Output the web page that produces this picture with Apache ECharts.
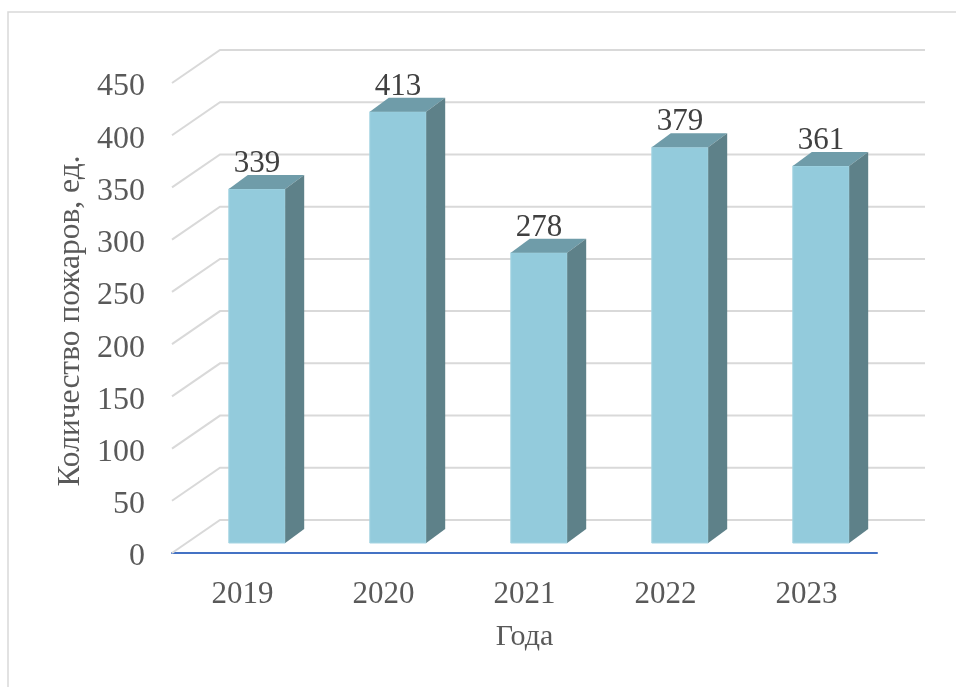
<!DOCTYPE html>
<html>
<head>
<meta charset="utf-8">
<script src="https://cdn.jsdelivr.net/npm/echarts@6/dist/echarts.min.js"></script>
<style>
html,body{margin:0;padding:0;background:#fff;}
#main{width:956px;height:687px;}
</style>
</head>
<body>
<div id="main"></div>
<script>
var years = ['2019', '2020', '2021', '2022', '2023'];
var fires = [339, 413, 278, 379, 361];
var yTicks = [0, 50, 100, 150, 200, 250, 300, 350, 400, 450];
var yTitle = 'Количество пожаров, ед.';
var xTitle = 'Года';

// псевдо-3D: сдвиг задней стенки и глубина столбика
var wallDx = 48, wallDy = -33;
var barDx = 19, barDy = -14;
var barShiftX = 14.5, barShiftY = -10;
var font = 'Liberation Serif';

var chart = echarts.init(document.getElementById('main'));

var option = {
	backgroundColor: '#fff',
	animation: false,
	graphic: [{
		type: 'rect',
		shape: { x: 8, y: 12, width: 980, height: 720 },
		style: { fill: null, stroke: '#d9d9d9', lineWidth: 1.5 },
		silent: true
	}, {
		type: 'text',
		x: 71,
		y: 321,
		rotation: Math.PI / 2,
		style: {
			text: yTitle,
			align: 'center',
			verticalAlign: 'middle',
			fontSize: 31.5,
			fontFamily: font,
			fill: '#595959'
		}
	}],
	grid: { left: 172, right: 79, top: 83, bottom: 134 },
	xAxis: {
		type: 'category',
		data: years,
		axisLine: { lineStyle: { color: '#4472c4', width: 2 } },
		axisTick: { show: false },
		axisLabel: { fontSize: 31, fontFamily: font, color: '#595959', margin: 26 },
		name: xTitle,
		nameLocation: 'middle',
		nameGap: 69,
		nameTextStyle: { fontSize: 30, fontFamily: font, color: '#595959' }
	},
	yAxis: {
		type: 'value',
		min: 0,
		max: 450,
		interval: 50,
		axisLine: { show: false },
		axisTick: { show: false },
		splitLine: { show: false },
		axisLabel: {
			fontSize: 32, fontFamily: font, color: '#595959', margin: 27,
			verticalAlign: 'top', lineHeight: 8
		}
	},
	series: [{
		// стенка с линиями сетки
		type: 'custom',
		z: 1,
		silent: true,
		data: yTicks.map(function(v) { return [0, v]; }),
		renderItem: function(params, api) {
			var cs = params.coordSys;
			var y = api.coord([0, api.value(1)])[1];
			return {
				type: 'polyline',
				shape: { points: [[cs.x, y], [cs.x + wallDx, y + wallDy], [cs.x + cs.width + wallDx, y + wallDy]] },
				style: { stroke: '#d9d9d9', lineWidth: 2, fill: null }
			};
		}
	}, {
		// столбики
		type: 'custom',
		z: 2,
		data: fires.map(function(v, i) { return [i, v]; }),
		renderItem: function(params, api) {
			var base = api.coord([api.value(0), 0]);
			var top = api.coord([api.value(0), api.value(1)]);
			var w = api.size([1, 0])[0] * 0.4;
			var x0 = base[0] + barShiftX - w / 2, x1 = x0 + w;
			var yb = base[1] + barShiftY, yt = top[1] + barShiftY;
			return {
				type: 'group',
				children: [{
					type: 'polygon',
					shape: { points: [[x0, yt], [x1, yt], [x1, yb], [x0, yb]] },
					style: { fill: '#93cbdc', stroke: '#a6d5e3', lineWidth: 1 }
				}, {
					type: 'polygon',
					shape: { points: [[x0, yt], [x1, yt], [x1 + barDx, yt + barDy], [x0 + barDx, yt + barDy]] },
					style: { fill: '#6f9ca9' }
				}, {
					type: 'polygon',
					shape: { points: [[x1, yt], [x1 + barDx, yt + barDy], [x1 + barDx, yb + barDy], [x1, yb]] },
					style: { fill: '#5e8189' }
				}, {
					type: 'text',
					style: {
						text: String(api.value(1)),
						x: (x0 + x1) / 2,
						y: yt - 25,
						align: 'center',
						verticalAlign: 'middle',
						fontSize: 31,
						fontFamily: font,
						fill: '#404040'
					}
				}]
			};
		}
	}]
};

chart.setOption(option);
</script>
</body>
</html>
